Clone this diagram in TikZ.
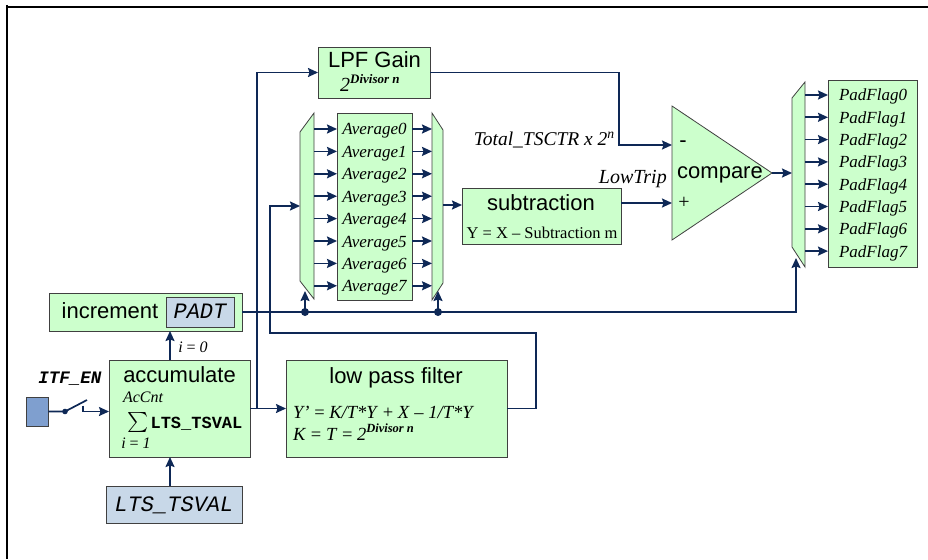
\documentclass[tikz,border=0pt]{standalone}
\usepackage{fontspec}
\usepackage{graphicx}
\setmainfont{Liberation Serif}
\setsansfont{Liberation Sans}
\setmonofont{Liberation Mono}
\usetikzlibrary{arrows.meta}
\definecolor{navy}{RGB}{14,40,86}
\definecolor{grn}{RGB}{204,255,204}
\definecolor{bgray}{RGB}{200,216,232}
\definecolor{itfc}{RGB}{127,159,207}
\begin{document}
\begin{tikzpicture}[x=1pt,y=-1pt,
  box/.style={draw=black!75, line width=0.8pt, fill=grn, inner sep=0pt, outer sep=0pt},
  ibox/.style={draw=black!75, line width=0.8pt, fill=bgray, inner sep=0pt, outer sep=0pt},
  muxs/.style={draw=black!75, line width=0.8pt, fill=grn},
  ln/.style={draw=navy, line width=1.7pt},
  arr/.style={ln, -{Stealth[length=10pt,width=9pt,inset=1.5pt]}},
  sanslbl/.style={font=\sffamily\fontsize{22}{24}\selectfont, inner sep=0pt},
  itlbl/.style={font=\itshape\fontsize{17}{19}\selectfont, inner sep=0pt},
  monoit/.style={font=\ttfamily\itshape\fontsize{22}{24}\selectfont, inner sep=0pt},
  monob/.style={font=\ttfamily\bfseries\fontsize{17}{19}\selectfont, inner sep=0pt},
  monobi/.style={font=\ttfamily\bfseries\itshape\fontsize{17.5}{19}\selectfont, inner sep=0pt},
  plain/.style={inner sep=0pt}
]
\useasboundingbox (0,0) rectangle (928,559);
% frame
\draw[black, line width=2.4pt] (6,7) -- (928,7);
\draw[black, line width=2.4pt] (7,5) -- (7,559);

% increment
\node[box, minimum width=193pt, minimum height=38pt] (inc) at (145.5,312) {};
\node[ibox, minimum width=68pt, minimum height=30pt] (padt) at (200,312) {};
\node[sanslbl, anchor=base] (inct) at (110,318) {increment};
\node[monoit, anchor=base] (padtt) at (200,318) {PADT};

% accumulate
\node[box, minimum width=141pt, minimum height=97pt] (acc) at (179.5,408.5) {};
\node[sanslbl, anchor=base] (acct) at (179.5,382) {accumulate};
\node[itlbl, anchor=base, font=\itshape\fontsize{16}{18}\selectfont] (accnt) at (143,402) {AcCnt};
\node[plain, anchor=north] (sig) at (138,412) {\scalebox{2.0}{$\sum$}};
\node[monob, anchor=base] (ltsb) at (196.5,428) {LTS\_TSVAL};
\node[itlbl, anchor=base, font=\itshape\fontsize{16}{18}\selectfont] (ione) at (136,448) {i \textup{=} 1};
\node[itlbl, anchor=base, font=\itshape\fontsize{16}{18}\selectfont] (izero) at (193,352) {i \textup{=} 0};

% LTS_TSVAL input
\node[ibox, minimum width=136pt, minimum height=37pt] (lts) at (174,504.5) {};
\node[monoit, anchor=base] (ltst) at (174,511) {LTS\_TSVAL};

% ITF_EN
\node[draw=black!75, line width=0.8pt, fill=itfc, minimum width=22pt, minimum height=29pt, inner sep=0pt] (itf) at (37,411.5) {};
\node[monobi, anchor=base] (itft) at (70,383) {ITF\_EN};

% LPF Gain
\node[box, minimum width=112pt, minimum height=51pt] (lpf) at (374,72.5) {};
\node[sanslbl, anchor=base] (lpft) at (374.5,68) {LPF Gain};
\node[plain, anchor=base west] (lpfe) at (340,92) {\itshape\fontsize{20}{20}\selectfont 2\raisebox{8pt}{\bfseries\fontsize{13}{13}\selectfont Divisor n}};

% muxes
\draw[muxs] (300,132) -- (314,113) -- (314,299) -- (300,281) -- cycle;
\draw[muxs] (432,113) -- (443,130) -- (443,283) -- (432,300) -- cycle;
\draw[muxs] (792,98) -- (805,82) -- (805,267) -- (792,247) -- cycle;

% averages
\node[box, minimum width=75pt, minimum height=187pt] (avg) at (374.5,206.5) {};
\foreach \k/\yy in {0/129,1/151.4,2/173.8,3/196.2,4/218.6,5/241,6/263.4,7/285.8}{
  \node[itlbl, anchor=base] (a\k) at (374.5,\yy+6) {Average\k};
  \draw[arr] (314,\yy) -- (avg.west |- 0,\yy);
  \draw[arr] (avg.east |- 0,\yy) -- (432,\yy);
}

% subtraction
\node[box, minimum width=159pt, minimum height=56pt] (sub) at (541.5,216) {};
\node[sanslbl, anchor=base] (subt) at (541,210) {subtraction};
\node[plain, anchor=base, font=\fontsize{16.5}{18}\selectfont] (sube) at (542,238) {Y = X -- Subtraction m};

% low pass filter
\node[box, minimum width=221pt, minimum height=97pt] (lp) at (396.5,408.5) {};
\node[sanslbl, anchor=base] (lpt) at (396,383) {low pass filter};
\node[plain, anchor=base west, font=\fontsize{18.5}{20}\selectfont] (lpe1) at (293,418) {\textit{Y’} = \textit{K/T*Y} + \textit{X} -- \textit{1/T*Y}};
\node[plain, anchor=base west, font=\fontsize{18.5}{20}\selectfont] (lpe2) at (293,440) {\textit{K} = \textit{T} = \textit{2}\raisebox{8pt}{\bfseries\itshape\fontsize{12.5}{12}\selectfont Divisor n}};

% compare
\draw[muxs] (672,106) -- (772,173) -- (672,240) -- cycle;
\coordinate (cmpm) at (672,145);
\coordinate (cmpp) at (672,203);
\coordinate (cmpo) at (772,173);
\node[plain, font=\sffamily\fontsize{22}{24}\selectfont] (minus) at (683,144) {-};
\node[sanslbl, anchor=base] (cmpt) at (720,178) {compare};
\node[plain, font=\fontsize{20}{22}\selectfont] (plus) at (684,203) {+};
\node[plain, anchor=base east, font=\itshape\fontsize{19.5}{21}\selectfont] (tot) at (615,146) {Total\_TSCTR x 2\textsuperscript{n}};
\node[plain, anchor=base east, font=\itshape\fontsize{20}{22}\selectfont] (low) at (667,183) {LowTrip};

% PadFlags
\node[box, minimum width=89pt, minimum height=187pt] (pf) at (872.5,173.5) {};
\foreach \k/\yy in {0/95,1/117.3,2/139.6,3/161.9,4/184.2,5/206.5,6/228.8,7/251.1}{
  \node[itlbl, anchor=base] (p\k) at (873,\yy+6) {PadFlag\k};
  \draw[arr] (805,\yy) -- (pf.west |- 0,\yy);
}

% connectors
\draw[arr] (acc.north -| 170,0) -- (inc.south -| 170,0);
\draw[arr] (lts.north -| 170,0) -- (acc.south -| 170,0);
\draw[ln] (itf.east) -- (65,411.5) -- (87,400);
\fill[navy] (65,411.5) circle (2.8pt);
\draw[arr] (83,405.5) -- (83,411.5) -- (acc.west |- 0,411.5);
\draw[arr] (acc.east) -- (lp.west);
\coordinate (br) at (257,408.5);
\draw[arr] (br) |- (lpf.west);
\draw[arr] (lp.east) -- (536,408.5) -- (536,333) -- (270,333) -- (270,206) -- (300,206);
\draw[arr] (443,205) -- (sub.west |- 0,205);
\draw[arr] (sub.east |- 0,203) -- (cmpp);
\draw[arr] (lpf.east) -- (619,72.5) -- (619,145) -- (cmpm);
\draw[arr] (cmpo) -- (792,173);
\draw[arr] (inc.east) -- (796,312) -- (796,258);
\draw[arr] (305,312) -- (305,291);
\draw[arr] (438,312) -- (438,291);
\fill[navy] (305,312) circle (4pt);
\fill[navy] (438,312) circle (4pt);
\end{tikzpicture}
\end{document}
